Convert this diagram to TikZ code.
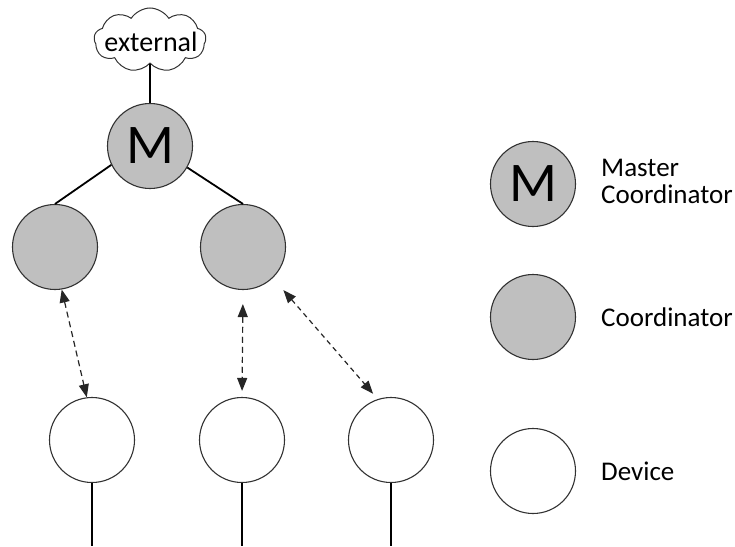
\documentclass[tikz,border=0pt]{standalone}
\usepackage{fontspec}
\setmainfont{Carlito}
\usetikzlibrary{shapes.symbols,arrows.meta}
\definecolor{coordfill}{RGB}{191,191,191}
\definecolor{rim}{RGB}{50,50,50}
\begin{document}
\begin{tikzpicture}[x=1pt,y=-1pt,
  unit/.style={circle,draw=rim,line width=1.1pt,minimum size=85pt,inner sep=0pt},
  coord/.style={unit,fill=coordfill},
  dev/.style={unit,fill=white},
  bigm/.style={font=\fontsize{56}{56}\selectfont},
  lbl/.style={anchor=west,align=left,inner sep=0pt,font=\fontsize{27}{27}\selectfont},
  link/.style={line width=1.8pt,black},
  radio/.style={line width=1.2pt,black!85,dash pattern=on 6pt off 4pt,
    {Triangle[length=13pt,width=10pt]}-{Triangle[length=13pt,width=10pt]}}
]
\useasboundingbox (0,0) rectangle (735,546);
\coordinate (bot) at (0,546);

% uplink cloud
\node[cloud,cloud puffs=9,cloud puff arc=115,draw=rim,line width=1pt,
      minimum width=112pt,minimum height=64pt,inner sep=0pt,aspect=1.8] (ext) at (150,40) {};
\node[font=\fontsize{28}{28}\selectfont,inner sep=0pt] (exttxt) at (151,42) {external};

% tree
\node[coord,bigm] (M) at (150,146) {M};
\node[coord] (C1) at (55,247) {};
\node[coord] (C2) at (243,247) {};
\node[dev] (D1) at (92,440) {};
\node[dev] (D2) at (242,440) {};
\node[dev] (D3) at (391,440) {};

\draw[link] (ext.south) -- (M.north);
\draw[link] (M.206) -- (C1.north);
\draw[link] (M.-30) -- (C2.north);
\foreach \d in {D1,D2,D3} \draw[link] (\d.south) -- (\d.south |- bot);

\draw[radio] (C1.-81) -- (D1.97);
\draw[radio,shorten <=14pt,shorten >=6pt] (C2.south) -- (D2.north);
\draw[radio,dash pattern=on 5pt off 4pt,shorten <=16pt,shorten >=7pt] (C2.-46) -- (D3.108);

% legend
\node[coord,bigm] (LM) at (533,184) {M};
\node[coord] (LC) at (533,317) {};
\node[dev] (LD) at (533,471) {};
\node[lbl] (tM) at (601,181) {Master\\Coordinator};
\node[lbl] (tC) at (601,317) {Coordinator};
\node[lbl] (tD) at (601,471) {Device};
\end{tikzpicture}
\end{document}
